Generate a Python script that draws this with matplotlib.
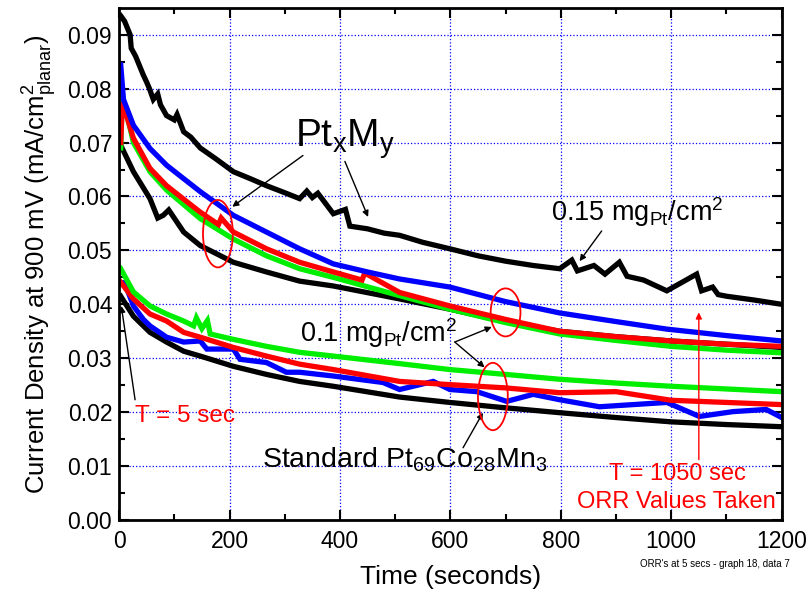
import matplotlib
matplotlib.use("Agg")
import matplotlib.pyplot as plt
from matplotlib.patches import Ellipse

plt.rcParams['font.family'] = ['Liberation Sans', 'DejaVu Sans']
plt.rcParams['mathtext.fontset'] = 'custom'
plt.rcParams['mathtext.rm'] = 'Liberation Sans'
plt.rcParams['mathtext.it'] = 'Liberation Sans'

# ---- data (time in s, current density in mA/cm2) ----
# 0.15 mg_Pt/cm2 group
t_hi_black_top = [3, 10, 20, 22, 30, 44, 50, 55, 62, 70, 75, 86, 100, 105, 117, 130, 147, 175,
                  207, 240, 267, 300, 327, 340, 350, 360, 388, 410, 418, 450, 480, 508, 550,
                  599, 650, 700, 750, 798, 820, 830, 860, 880, 906, 920, 950, 992, 1046,
                  1055, 1075, 1085, 1100, 1150, 1200]
j_hi_black_top = [0.0935, 0.0925, 0.0900, 0.0875, 0.0860, 0.0825, 0.0812, 0.0800, 0.0780,
                  0.0790, 0.0770, 0.0750, 0.0742, 0.0752, 0.0720, 0.0710, 0.0690, 0.0670,
                  0.0646, 0.0632, 0.0620, 0.0607, 0.0596, 0.0610, 0.0598, 0.0606, 0.0568,
                  0.0576, 0.0545, 0.0540, 0.0532, 0.0528, 0.0515, 0.0503, 0.0490, 0.0480,
                  0.0472, 0.0466, 0.0482, 0.0462, 0.0472, 0.0456, 0.0478, 0.0452, 0.0445,
                  0.0425, 0.0456, 0.0425, 0.0432, 0.0418, 0.0415, 0.0408, 0.0400]

t_hi_blue = [3, 8, 26, 56, 86, 117, 147, 207, 267, 327, 388, 450, 508, 599, 700, 798, 900,
             992, 1100, 1200]
j_hi_blue = [0.0844, 0.0780, 0.0732, 0.0689, 0.0658, 0.0633, 0.0609, 0.0565, 0.0534,
             0.0503, 0.0475, 0.0460, 0.0447, 0.0432, 0.0405, 0.0384, 0.0368, 0.0354,
             0.0342, 0.0332]

t_hi_red = [3, 6, 26, 56, 86, 117, 147, 180, 185, 207, 267, 327, 388, 440, 445, 508, 599,
            700, 798, 900, 1000, 1100, 1200]
j_hi_red = [0.0700, 0.0775, 0.0708, 0.0652, 0.0620, 0.0595, 0.0571, 0.0548, 0.0560,
            0.0534, 0.0503, 0.0478, 0.0460, 0.0445, 0.0458, 0.0422, 0.0397, 0.0372,
            0.0350, 0.0340, 0.0332, 0.0326, 0.0322]

t_hi_green = [3, 6, 26, 56, 86, 117, 147, 207, 267, 327, 388, 508, 599, 700, 798, 900,
              1000, 1100, 1200]
j_hi_green = [0.0690, 0.0788, 0.0700, 0.0646, 0.0612, 0.0585, 0.0559, 0.0521, 0.0490,
              0.0466, 0.0450, 0.0416, 0.0391, 0.0366, 0.0345, 0.0333, 0.0322, 0.0315,
              0.0310]

t_hi_black_low = [3, 26, 56, 70, 80, 90, 117, 147, 207, 267, 327, 388, 508, 599, 700, 798,
                  900, 1000, 1100, 1200]
j_hi_black_low = [0.0695, 0.0646, 0.0596, 0.0560, 0.0565, 0.0575, 0.0534, 0.0509, 0.0478,
                  0.0460, 0.0443, 0.0434, 0.0410, 0.0391, 0.0368, 0.0350, 0.0340, 0.0332,
                  0.0326, 0.0320]

# 0.1 mg_Pt/cm2 group
t_lo_green = [3, 26, 56, 86, 117, 135, 140, 150, 160, 165, 207, 267, 327, 388, 508, 599,
              700, 798, 900, 1000, 1100, 1200]
j_lo_green = [0.0466, 0.0423, 0.0397, 0.0382, 0.0369, 0.0360, 0.0375, 0.0355, 0.0370,
              0.0345, 0.0335, 0.0322, 0.0311, 0.0304, 0.0290, 0.0279, 0.0270, 0.0261,
              0.0254, 0.0248, 0.0243, 0.0238]

t_lo_red = [3, 26, 56, 86, 117, 147, 207, 267, 327, 388, 508, 599, 700, 798, 900, 1000,
            1100, 1200]
j_lo_red = [0.0441, 0.0410, 0.0382, 0.0369, 0.0348, 0.0339, 0.0320, 0.0304, 0.0289,
            0.0279, 0.0257, 0.0251, 0.0245, 0.0236, 0.0238, 0.0222, 0.0218, 0.0214]

t_lo_blue = [3, 10, 26, 44, 56, 86, 117, 147, 159, 207, 219, 267, 303, 327, 388, 478, 508,
             569, 599, 648, 702, 750, 798, 870, 992, 1051, 1112, 1172, 1200]
j_lo_blue = [0.0440, 0.0440, 0.0397, 0.0372, 0.0360, 0.0339, 0.0330, 0.0332, 0.0317,
             0.0317, 0.0298, 0.0292, 0.0274, 0.0274, 0.0267, 0.0255, 0.0242, 0.0257,
             0.0242, 0.0238, 0.0220, 0.0233, 0.0223, 0.0210, 0.0218, 0.0192, 0.0201,
             0.0205, 0.0190]

t_lo_black = [3, 26, 56, 86, 117, 147, 207, 267, 327, 388, 508, 599, 700, 798, 900, 1000,
              1100, 1200]
j_lo_black = [0.0415, 0.0378, 0.0348, 0.0330, 0.0313, 0.0304, 0.0285, 0.0270, 0.0257,
              0.0248, 0.0228, 0.0218, 0.0208, 0.0199, 0.0190, 0.0182, 0.0177, 0.0173]

series = [
    (t_lo_black, j_lo_black, 'black'),
    (t_lo_blue, j_lo_blue, 'blue'),
    (t_lo_red, j_lo_red, 'red'),
    (t_lo_green, j_lo_green, '#00ee00'),
    (t_hi_black_low, j_hi_black_low, 'black'),
    (t_hi_green, j_hi_green, '#00ee00'),
    (t_hi_red, j_hi_red, 'red'),
    (t_hi_blue, j_hi_blue, 'blue'),
    (t_hi_black_top, j_hi_black_top, 'black'),
]

fig = plt.figure(figsize=(8.1, 5.97), dpi=100)
ax = fig.add_axes([0.147, 0.129, 0.818, 0.858])

for t, j, c in series:
    ax.plot(t, j, color=c, lw=3.8, solid_joinstyle='miter')

ax.set_xlim(0, 1200)
ax.set_ylim(0, 0.095)
ax.set_xticks(range(0, 1201, 200))
ax.set_xticks(range(0, 1201, 100), minor=True)
ax.set_yticks([i / 100 for i in range(10)])
ax.set_yticks([i / 200 for i in range(19)], minor=True)
ax.set_yticklabels(['%.2f' % (i / 100) for i in range(10)])
ax.tick_params(which='both', direction='in', top=True, right=True, labelsize=16.5, width=1.5)
ax.tick_params(which='major', length=7)
ax.tick_params(which='minor', length=4)
ax.tick_params(axis='x', pad=7)
ax.tick_params(axis='y', pad=5)
for s in ax.spines.values():
    s.set_linewidth(2)
ax.grid(True, which='major', color='blue', ls=':', lw=0.9)
ax.set_axisbelow(True)

ax.set_xlabel('Time (seconds)', fontsize=19, labelpad=9)
ax.set_ylabel(r'Current Density at 900 mV (mA/cm$^2_{\mathrm{planar}}$)', fontsize=18.5, labelpad=6)

arrow = dict(arrowstyle='-|>', color='black', lw=1, mutation_scale=9, shrinkA=0, shrinkB=0)

# Pt_xM_y
ax.text(319, 0.0693, r'Pt$_\mathrm{x}$M$_\mathrm{y}$', fontsize=28)
ax.annotate('', xy=(205, 0.0581), xytext=(333, 0.0676), arrowprops=arrow)
ax.annotate('', xy=(451, 0.0562), xytext=(409, 0.0665), arrowprops=arrow)

# loading labels
ax.text(783, 0.0555, r'0.15 mg$_\mathrm{Pt}$/cm$^2$', fontsize=19.5)
ax.annotate('', xy=(834, 0.0480), xytext=(874, 0.0536), arrowprops=arrow)
ax.text(328, 0.0331, r'0.1 mg$_\mathrm{Pt}$/cm$^2$', fontsize=19.5)
ax.annotate('', xy=(675, 0.0358), xytext=(608, 0.0330), arrowprops=arrow)
ax.annotate('', xy=(662, 0.0283), xytext=(608, 0.0330), arrowprops=arrow)
ax.text(259, 0.0097, r'Standard Pt$_{69}$Co$_{28}$Mn$_3$', fontsize=20.5)
ax.annotate('', xy=(659, 0.0199), xytext=(623, 0.0134), arrowprops=arrow)

# time markers
ax.text(29, 0.0182, 'T = 5 sec', fontsize=17.5, color='red')
ax.annotate('', xy=(4, 0.0397), xytext=(29, 0.0223), arrowprops=arrow)
ax.annotate('', xy=(1050, 0.0385), xytext=(1050, 0.0112),
            arrowprops=dict(arrowstyle='-|>', color='red', lw=1, mutation_scale=9,
                            shrinkA=0, shrinkB=0))
ax.text(1012, 0.0074, 'T = 1050 sec', fontsize=17, color='red', ha='center')
ax.text(1010, 0.0022, 'ORR Values Taken', fontsize=17, color='red', ha='center')

for cx, cy, h in [(179, 0.0531, 0.0125), (700, 0.0385, 0.0089), (677, 0.0229, 0.0125)]:
    ax.add_patch(Ellipse((cx, cy), 54, h, fill=False, ec='red', lw=1.3, zorder=5))

fig.text(0.883, 0.050, "ORR's at 5 secs - graph 18, data 7", fontsize=7, ha='center')

fig.savefig('out.png', dpi=100)
